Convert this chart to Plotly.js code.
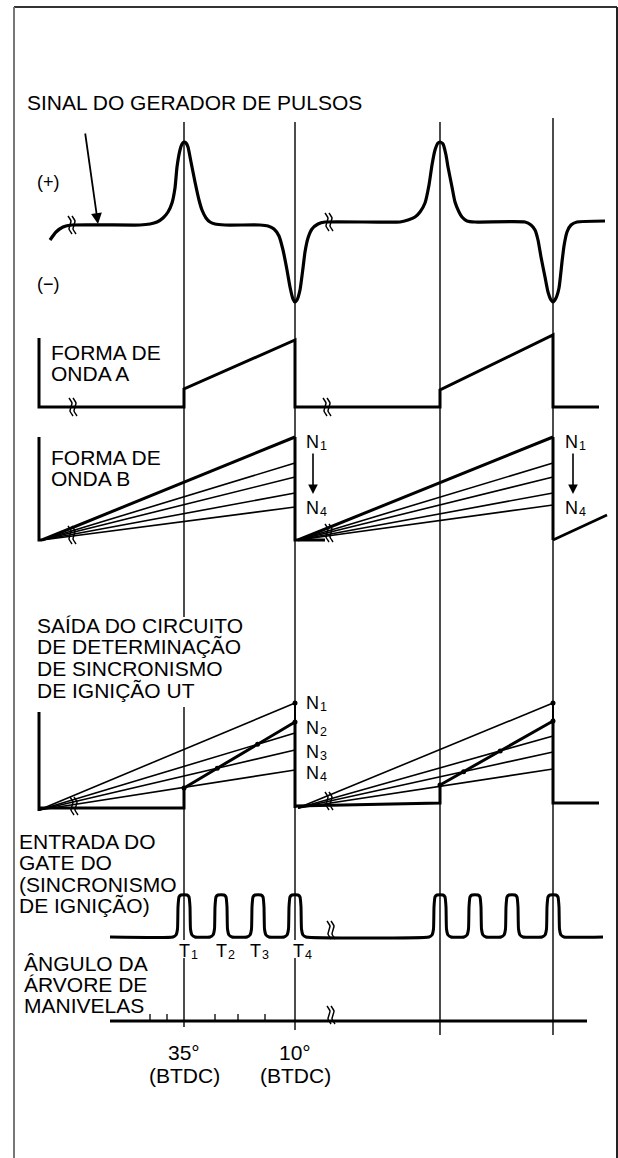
<!DOCTYPE html>
<html>
<head>
<meta charset="utf-8">
<script src="https://cdn.plot.ly/plotly-3.0.1.min.js"></script>
<style>html,body{margin:0;padding:0;background:#fff;}#chart{width:618px;height:1158px;}</style>
</head>
<body>
<div id="chart"></div>
<script>
// ---------- DATA (diagram units: horizontal timeline, vertical level) ----------
const eventX = [184, 295, 440, 553];               // reference timing lines
const eventSpans = [[[122,617],[707,940],[958,1027]], [[122,940],[958,1030]], [[122,1035]], [[118,1035]]];

// Pulse generator signal
const signalX = [50,56,63,72,140,150,157,163,168,172,175,177,180,182,184,186,188,191,195,199,202,206,210,215,225,260,268,274,279,283,287,290,293,295,297,300,303,305,308,312,318,325,400,408,415,420,425,429,432,435,438,440,443,446,448,452,455,459,462,467,475,525,531,535,538,541,545,548,551,553,556,559,562,564,567,571,577,605];
const signalY = [240,232,227,225,225,224,222,218,212,203,188,167,150,144,142,143,147,162,182,200,210,218,222,224,225,225,226,229,236,250,270,287,299,302,300,290,268,252,238,229,224,222,222,220,217,212,203,185,165,150,143,142,144,155,167,187,202,212,217,221,222,222,225,230,240,257,277,292,300,302,298,288,262,246,232,225,222,221];

// Waveform A
const waveAX = [39,39,184,184,295,295,440,440,553,553,599];
const waveAY = [338,407,407,389,340,407,407,390,335,407,407];

// Waveform B
const waveBAxisY = [437, 540];
const waveBOrigin = [[42,540],[298,540]];
const waveBEnds1 = [437,463,477,493,507];
const waveBEnds2 = [437,463,477,493,505];
const waveBTailX = [553, 607];
const waveBTailY = [540, 515];

// Ignition timing determination output UT
const utAxisY = [712, 811];
const utOrigin = [[39,810],[298,808]];
const utEnds1 = [703,733,750,770];
const utEnds2 = [703,736,752,769];
const utStepX = [[39,184,184,295,295],[295,440,440,553,553,599]];
const utStepY = [[808,808,788,722,808],[806,803,785,721,803,803]];

// Gate input (ignition timing)
const gateBase = 937;
const gatePulseX = [184,221,258,295,440,475,512,553];
const gateProfileDx = [-11,-8,-6.5,-6,-5,-3,3,5,6,6.5,8,11];
const gateProfileH  = [0,2,8,30,40,42,42,40,30,8,2,0];
const gateStartEnd = [110, 603];

// Crankshaft angle
const crankY = 1021;
const crankStartEnd = [110, 587];
const crankMinorTicks = [150,167,215,238,265];

// break marks
const breaks = [[70,225],[327,222],[71,407],[325,407],[70,535],[327,533],[72,806],[327,801],[329,930],[329,1015]];

// labels (letter + subscript index)
const tIndex = ['1','2','3','4'];
const tLabelX = [177,214,248,291];
const bNIndex = ['1','4'];
const bNLabelY = [442,508];
const utNIndex = ['1','2','3','4'];
const utNLabelY = [703,728,752,773];
const angleLabels = ['35°','10°'];

// ---------- BUILD ----------
const traces = [];
function addLine(xs, ys, width, shape, color, smoothing) {
  traces.push({type:'scatter', mode:'lines', x:xs, y:ys, hoverinfo:'skip',
    line:{color: color||'#000', width:width, shape: shape||'linear', smoothing: smoothing||0.5}});
}
// event lines
(function(){
  const xs=[], ys=[];
  eventX.forEach((x,i)=>{ eventSpans[i].forEach(s=>{ xs.push(x,x,null); ys.push(s[0],s[1],null); }); });
  addLine(xs, ys, 1.4);
})();
// signal
addLine(signalX, signalY, 3.2, 'spline', '#000', 0.5);
// A
addLine(waveAX, waveAY, 3);
// B axis + drops
addLine([39,39,42], [waveBAxisY[0], waveBAxisY[1], waveBAxisY[1]], 3);
function fan(origin, endX, ends, thickFirst) {
  ends.forEach((e,i)=>{
    addLine([origin[0], endX],[origin[1], e], (thickFirst && i===0) ? 3 : 1.6);
  });
}
fan(waveBOrigin[0], eventX[1], waveBEnds1, true);
fan(waveBOrigin[1], eventX[3], waveBEnds2, true);
addLine([eventX[1],eventX[1],325], [waveBEnds1[0], waveBOrigin[1][1], waveBOrigin[1][1]], 3);
addLine([eventX[3],eventX[3]], [waveBEnds2[0], waveBOrigin[1][1]], 3);
addLine(waveBTailX, waveBTailY, 2.5);
// UT
addLine([39,39], utAxisY, 3);
fan(utOrigin[0], eventX[1], utEnds1, false);
fan(utOrigin[1], eventX[3], utEnds2, false);
addLine(utStepX[0], utStepY[0], 3);
addLine(utStepX[1], utStepY[1], 3);
addLine([eventX[1],eventX[1]],[utEnds1[0], utStepY[0][3]], 2);
addLine([eventX[3],eventX[3]],[utEnds2[0], utStepY[1][3]], 2);
// intersection dots
(function(){
  const dx=[], dy=[];
  function inter(a0,a1,b0,b1){
    const d=(a1[0]-a0[0])*(b1[1]-b0[1])-(a1[1]-a0[1])*(b1[0]-b0[0]);
    if (Math.abs(d)<1e-9) return null;
    const t=((b0[0]-a0[0])*(b1[1]-b0[1])-(b0[1]-a0[1])*(b1[0]-b0[0]))/d;
    return [a0[0]+t*(a1[0]-a0[0]), a0[1]+t*(a1[1]-a0[1]), t];
  }
  [[0,utEnds1],[1,utEnds2]].forEach(([k,ends])=>{
    const sx=utStepX[k], sy=utStepY[k];
    const th0=[sx[2], sy[2]], th1=[sx[3], sy[3]];
    const endX = eventX[k===0?1:3];
    dx.push(th0[0], th1[0], endX); dy.push(th0[1], th1[1], ends[0]);
    ends.slice(1,3).forEach(e=>{
      const p=inter(th0,th1,utOrigin[k],[endX,e]);
      if(p && p[2]>0.05 && p[2]<0.95){dx.push(p[0]);dy.push(p[1]);}
    });
  });
  traces.push({type:'scatter',mode:'markers',x:dx,y:dy,hoverinfo:'skip',marker:{color:'#000',size:5}});
})();
// gate
(function(){
  const gx=[gateStartEnd[0]], gy=[gateBase];
  gatePulseX.forEach(p=>{ gateProfileDx.forEach((d,i)=>{ gx.push(p+d); gy.push(gateBase-gateProfileH[i]); }); });
  gx.push(gateStartEnd[1]); gy.push(gateBase);
  addLine(gx, gy, 3, 'spline', '#000', 0.4);
})();
// crank axis
addLine(crankStartEnd, [crankY, crankY], 3);
(function(){
  const xs=[], ys=[];
  crankMinorTicks.forEach(x=>{ xs.push(x,x,null); ys.push(crankY-7,crankY,null); });
  addLine(xs, ys, 1.3);
})();
// break marks
(function(){
  const xs=[], ys=[];
  const px=[-2,1,0,-1,2], py=[-9,-4,0,4,9];
  breaks.forEach(b=>{
    [0,4].forEach(o=>{ px.forEach((p,i)=>{ xs.push(b[0]+p+o); ys.push(b[1]+py[i]); }); xs.push(null); ys.push(null); });
  });
  addLine(xs, ys, 1.5, 'spline');
})();

// ---------- TEXT ----------
const F = 'Liberation Sans, Arial, Helvetica, sans-serif';
const ann = [];
function label(text, x, y, size, xanchor) {
  ann.push({text:text, x:x, y:y, xref:'x', yref:'y', showarrow:false, xanchor:xanchor||'left', yanchor:'middle',
    font:{family:F, size:size||21, color:'#000'}});
}
function subLabel(letter, idx, x, y) {
  label(letter, x, y, 18);
  label(idx, x + (letter === 'N' ? 13.5 : 11.5), y + 4, 12.5);
}
label('SINAL DO GERADOR DE PULSOS', 25, 102);
label('(+)', 35, 182, 18);
label('(−)', 35, 284, 18);
label('FORMA DE', 49, 352); label('ONDA A', 49, 373);
label('FORMA DE', 49, 457); label('ONDA B', 49, 478);
['SAÍDA DO CIRCUITO','DE DETERMINAÇÃO','DE SINCRONISMO','DE IGNIÇÃO UT'].forEach((t,i)=>label(t, 35, 625+i*21.7));
['ENTRADA DO','GATE DO','(SINCRONISMO','DE IGNIÇÃO)'].forEach((t,i)=>label(t, 17, 841+i*21.5));
['ÂNGULO DA','ÁRVORE DE','MANIVELAS'].forEach((t,i)=>label(t, 22, 963+i*21));
label(angleLabels[0], eventX[0], 1052, 21, 'center'); label('(BTDC)', eventX[0], 1075, 21, 'center');
label(angleLabels[1], eventX[1], 1052, 21, 'center'); label('(BTDC)', eventX[1], 1075, 21, 'center');
bNIndex.forEach((d,i)=>{ subLabel('N', d, 304, bNLabelY[i]); subLabel('N', d, 563, bNLabelY[i]); });
utNIndex.forEach((d,i)=>subLabel('N', d, 304, utNLabelY[i]));
tIndex.forEach((d,i)=>subLabel('T', d, tLabelX[i], 951));
// arrows
function arrow(x, y, ax, ay, w) {
  ann.push({x:x, y:y, ax:ax, ay:ay, xref:'x', yref:'y', axref:'x', ayref:'y', text:'', showarrow:true,
    arrowhead:2, arrowsize:1.2, arrowwidth:w||1.6, arrowcolor:'#000'});
}
arrow(98, 224, 85, 132, 1.8);
arrow(313, 494, 313, 452, 1.6);
arrow(573, 494, 573, 452, 1.6);

const layout = {
  width:618, height:1158, autosize:false,
  margin:{l:0,r:0,t:0,b:0,pad:0},
  paper_bgcolor:'#fff', plot_bgcolor:'#fff', showlegend:false,
  xaxis:{range:[0,618], visible:false, fixedrange:true},
  yaxis:{range:[1158,0], visible:false, fixedrange:true},
  annotations: ann,
  shapes:[
    {type:'line', xref:'x', yref:'y', x0:14, y0:7, x1:617, y1:7, line:{color:'#333', width:2}},
    {type:'line', xref:'x', yref:'y', x0:14, y0:7, x1:14, y1:1158, line:{color:'#777', width:2}},
    {type:'line', xref:'x', yref:'y', x0:617, y0:7, x1:617, y1:1158, line:{color:'#222', width:2}}
  ]
};
Plotly.newPlot('chart', traces, layout, {displayModeBar:false, staticPlot:true});
</script>
</body>
</html>
